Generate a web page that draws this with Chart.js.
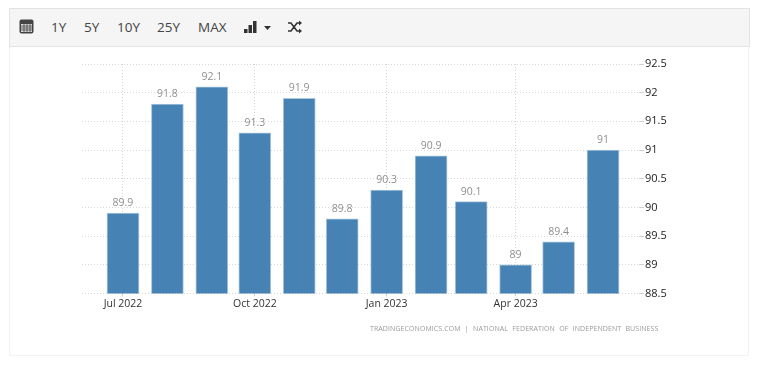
<!DOCTYPE html>
<html><head><meta charset="utf-8">
<script src="https://cdn.jsdelivr.net/npm/chart.js@4"></script>
<style>
html,body{margin:0;padding:0;background:#fff;width:758px;height:371px;overflow:hidden;font-family:"Open Sans",sans-serif}
#panel{position:absolute;left:9px;top:47px;width:740px;height:309px;border:1px solid #f3f3f3;border-top:0;box-sizing:border-box}
#bar{position:absolute;left:9px;top:8px;width:741px;height:39px;background:#f5f5f5;border:1px solid #e3e3e3;box-sizing:border-box}
#bar span{position:absolute;top:8px;font-size:13.5px;line-height:20px;color:#444}
#bar svg{position:absolute}
#wrap{position:absolute;left:0;top:0;width:758px;height:371px}
#src{position:absolute;left:370px;top:324px;font-size:7px;line-height:10px;color:#9a9a9a;letter-spacing:.08px;word-spacing:2.4px;white-space:nowrap}
</style></head><body>
<div id="panel"></div>
<div id="bar">
<svg style="left:9px;top:10px" width="16" height="16" viewBox="0 0 16 16"><rect x="0.5" y="0.5" width="14" height="14" rx="2" fill="#444"/><rect x="2" y="5" width="11" height="8" fill="#ddd"/><path d="M2 7h11M2 9h11M2 11h11M5 5v8M8 5v8M11 5v8" stroke="#444" stroke-width=".8"/></svg>
<span style="left:41px">1Y</span><span style="left:74px">5Y</span><span style="left:107px">10Y</span><span style="left:147px">25Y</span><span style="left:188px">MAX</span>
<svg style="left:233px;top:10px" width="32" height="16" viewBox="0 0 32 16"><rect x="1" y="10" width="3.5" height="4" fill="#333"/><rect x="5.5" y="6" width="3.5" height="8" fill="#333"/><rect x="10" y="2" width="3.5" height="12" fill="#333"/><path d="M21 7h7l-3.5 4z" fill="#333"/></svg>
<svg style="left:277px;top:10px" width="16" height="16" viewBox="0 0 16 16"><path d="M1 4h3l6 8h3M1 12h3l6-8h3" fill="none" stroke="#333" stroke-width="1.6"/><path d="M12 1.5l3 2.5-3 2.5zM12 9.5l3 2.5-3 2.5z" fill="#333"/></svg>
</div>
<div id="wrap"><canvas id="c" width="758" height="371"></canvas></div>
<div id="src">TRADINGECONOMICS.COM | NATIONAL FEDERATION OF INDEPENDENT BUSINESS</div>
<script>
const categories=["2022-07-01","2022-08-01","2022-09-01","2022-10-01","2022-11-01","2022-12-01","2023-01-01","2023-02-01","2023-03-01","2023-04-01","2023-05-01","2023-06-01"];
const seriesValues=[89.9,91.8,92.1,91.3,91.9,89.8,90.3,90.9,90.1,89,89.4,91];
const xTickDates=["2022-07-01","2022-10-01","2023-01-01","2023-04-01"];
const xTickLabels=["Jul 2022","Oct 2022","Jan 2023","Apr 2023"];
const yTickValues=[88.5,89,89.5,90,90.5,91,91.5,92,92.5];
const ts=s=>Date.parse(s+"T00:00:00Z");
const DAY=864e5;
const FONT='"Open Sans",sans-serif';
const valueLabels={id:'valueLabels',afterDatasetsDraw(ch){
  const g=ch.ctx,m=ch.getDatasetMeta(0);
  g.save();g.font='10.5px '+FONT;g.fillStyle='#8f8f8f';g.textAlign='center';g.textBaseline='alphabetic';
  m.data.forEach((b,i)=>g.fillText(String(seriesValues[i]),b.x,b.y-7));
  g.restore();
}};
new Chart(document.getElementById('c'),{
  type:'bar',
  data:{datasets:[{data:categories.map((d,i)=>({x:ts(d),y:seriesValues[i]})),backgroundColor:'#4682b4',borderColor:'#a9c6de',borderWidth:{left:1,right:1,top:1,bottom:0},barThickness:32,borderSkipped:false}]},
  plugins:[valueLabels],
  options:{responsive:false,animation:false,devicePixelRatio:1,
    layout:{padding:{left:82,top:64,right:0,bottom:60}},
    plugins:{legend:{display:false},tooltip:{enabled:false},title:{display:false}},
    scales:{
      x:{type:'linear',offset:false,min:ts(xTickDates[0])-28.6*DAY,max:ts(xTickDates[0])+360.1*DAY,
        afterBuildTicks(a){a.ticks=xTickDates.map(d=>({value:ts(d)}))},
        grid:{offset:false,color:'#d6d6d6',lineWidth:1,tickLength:3,drawTicks:true,tickColor:'#d0d0d0'},
        border:{display:false,dash:[1,2]},
        ticks:{autoSkip:false,maxRotation:0,padding:1,color:'#333',font:{family:FONT,size:10.5},callback:(v)=>xTickLabels[xTickDates.findIndex(d=>ts(d)===v)]}
      },
      y:{position:'right',min:88.5,max:92.5,
        afterBuildTicks(a){a.ticks=yTickValues.map(v=>({value:v}))},
        afterFit(a){a.width=119},
        grid:{color:'#d6d6d6',lineWidth:1,drawTicks:true,tickLength:5,tickColor:'#d0d0d0'},
        border:{display:false,dash:[1,2]},
        ticks:{autoSkip:false,padding:1,color:'#222',font:{family:FONT,size:11},callback:v=>String(v)}
      }
    }
  }
});
</script></body></html>
